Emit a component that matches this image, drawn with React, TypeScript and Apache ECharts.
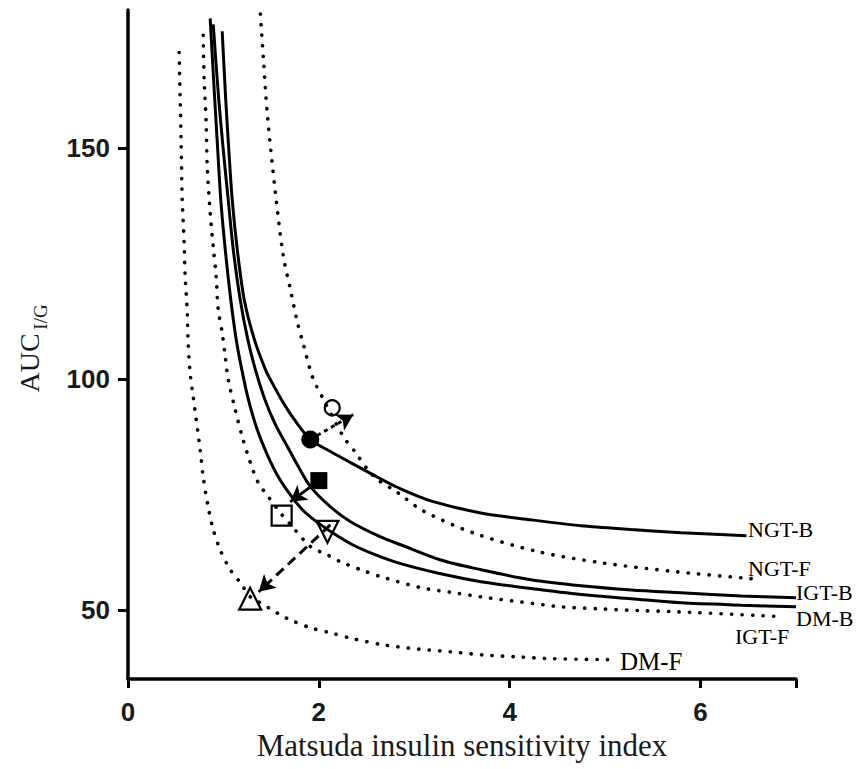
import React, { useEffect, useRef } from "react";
import * as echarts from "echarts";

// ---------- data ----------
const xTicks = [0, 2, 4, 6];
const yTicks = [50, 100, 150];

const ngtB: [number, number][] = [
  [0.987, 175.4], [1.024, 160.6], [1.056, 149.8], [1.092, 138.9], [1.145, 128.1],
  [1.218, 117.2], [1.324, 108.6], [1.439, 102.1], [1.492, 99.9], [1.607, 95.6],
  [1.744, 91.2], [1.912, 86.9], [2.122, 84.3], [2.332, 81.9], [2.647, 78.4],
  [2.857, 76.2], [3.172, 73.6], [3.697, 71.0], [4.223, 69.5], [4.748, 68.2],
  [5.273, 67.4], [5.798, 66.7], [6.481, 66.05],
];
const igtB: [number, number][] = [
  [0.893, 176.9], [0.951, 160.6], [0.998, 149.8], [1.05, 138.9], [1.103, 128.1],
  [1.176, 117.2], [1.255, 108.6], [1.334, 102.1], [1.434, 95.6], [1.544, 90.2],
  [1.67, 85.4], [1.786, 81.0], [1.912, 76.7], [2.122, 72.3], [2.332, 69.1],
  [2.647, 65.8], [2.857, 64.1], [3.277, 60.8], [3.697, 58.7], [4.223, 56.5],
  [4.748, 55.2], [5.273, 54.3], [5.798, 53.7], [6.429, 53.0], [7.0, 52.6],
];
const dmB: [number, number][] = [
  [0.861, 178.2], [0.909, 160.6], [0.94, 149.8], [0.972, 138.9], [1.019, 128.1],
  [1.077, 117.2], [1.134, 108.6], [1.192, 102.1], [1.261, 95.6], [1.355, 89.0],
  [1.46, 83.6], [1.576, 78.8], [1.702, 74.9], [1.828, 71.7], [1.975, 69.1],
  [2.143, 66.7], [2.353, 64.1], [2.595, 61.9], [2.857, 60.0], [3.277, 57.8],
  [3.697, 56.1], [4.223, 54.6], [4.748, 53.3], [5.273, 52.4], [5.798, 51.5],
  [6.429, 51.0], [7.0, 50.65],
];
const ngtF: [number, number][] = [
  [1.387, 179.1], [1.418, 169.7], [1.46, 157.4], [1.544, 140.5], [1.628, 126.6],
  [1.702, 119.4], [1.775, 112.3], [1.838, 107.5], [1.933, 100.5], [2.038, 96.0],
  [2.258, 87.5], [2.384, 84.1], [2.511, 80.4], [2.616, 78.2], [2.826, 75.4],
  [3.088, 71.5], [3.613, 66.7], [4.296, 62.6], [4.958, 60.2], [5.767, 58.2], [6.565, 56.7],
];
const igtF: [number, number][] = [
  [0.788, 174.5], [0.798, 165.0], [0.819, 155.6], [0.83, 146.1], [0.861, 136.1],
  [0.893, 128.7], [0.924, 122.2], [0.945, 115.1], [0.987, 110.1], [1.019, 104.9],
  [1.05, 99.9], [1.124, 93.4], [1.197, 87.5], [1.282, 81.9], [1.366, 77.5],
  [1.471, 74.5], [1.597, 71.0], [1.723, 68.0], [1.912, 63.7], [2.09, 61.9],
  [2.227, 60.4], [2.437, 58.7], [2.647, 57.2], [3.067, 54.8], [3.414, 53.7],
  [3.771, 52.6], [4.118, 51.7], [4.538, 50.65], [4.958, 50.2], [5.378, 49.8],
  [5.725, 49.6], [6.87, 48.5],
];
const dmF: [number, number][] = [
  [0.536, 170.8], [0.546, 161.3], [0.557, 151.3], [0.567, 139.6], [0.588, 129.6],
  [0.599, 122.2], [0.62, 115.1], [0.63, 107.9], [0.651, 101.4], [0.683, 96.2],
  [0.756, 84.7], [0.788, 78.8], [0.84, 72.3], [0.893, 67.4], [0.966, 63.0],
  [1.071, 58.7], [1.176, 55.9], [1.282, 52.8], [1.387, 51.5], [1.492, 50.2],
  [1.597, 48.9], [1.702, 47.8], [1.912, 46.1], [2.122, 45.0], [2.363, 43.7],
  [2.679, 42.4], [3.036, 41.5], [3.382, 40.9], [3.729, 40.2], [4.086, 39.8],
  [4.433, 39.4], [5.03, 39.2],
];

// group means (baseline -> follow-up)
const ngtBPoint: [number, number] = [1.91, 86.9];
const ngtFPoint: [number, number] = [2.14, 93.8];
const igtBPoint: [number, number] = [2.0, 78.0];
const igtFPoint: [number, number] = [1.61, 70.4];
const dmBPoint: [number, number] = [2.09, 66.9];
const dmFPoint: [number, number] = [1.28, 52.4];

// arrow end points
const ngtArrowEnd: [number, number] = [2.36, 92.3];
const igtArrowEnd: [number, number] = [1.7, 73.4];
const dmArrowStart: [number, number] = [2.12, 68.4];
const dmArrowEnd: [number, number] = [1.37, 53.9];

const serif = "'Liberation Serif', 'Times New Roman', serif";
const sans = "'Liberation Sans', Arial, sans-serif";
const INK = "#000";

function curve(name: string, data: [number, number][], dotted: boolean) {
  return {
    name,
    type: "line",
    data,
    smooth: 0.3,
    showSymbol: false,
    symbol: "none",
    silent: true,
    lineStyle: dotted
      ? { color: INK, width: 3.6, type: [0.2, 10.3], cap: "round" }
      : { color: INK, width: 3 },
    z: 2,
  };
}

function marker(name: string, pt: [number, number], symbol: string, size: number, filled: boolean, rotate = 0) {
  return {
    name,
    type: "scatter",
    data: [pt],
    symbol,
    symbolSize: size,
    symbolRotate: rotate,
    silent: true,
    itemStyle: filled
      ? { color: INK, opacity: 1 }
      : { color: "rgba(0,0,0,0)", borderColor: INK, borderWidth: 2.2, opacity: 1 },
    z: 5,
  };
}

function arrow(name: string, from: [number, number], to: [number, number], type: any) {
  return {
    name,
    type: "line",
    data: [],
    silent: true,
    markLine: {
      silent: true,
      symbol: ["none", "arrow"],
      symbolSize: [14, 16],
      label: { show: false },
      lineStyle: { color: INK, width: 3, type, opacity: 1 },
      data: [[{ coord: from }, { coord: to }]],
    },
    z: 4,
  };
}

export default function App() {
  const ref = useRef<HTMLDivElement>(null);
  useEffect(() => {
    if (!ref.current) return;
    const chart = echarts.init(ref.current, null, { renderer: "svg" });
    const labelStyle = (text: string, size = 22) => ({
      text,
      fill: INK,
      font: `${size}px ${serif}`,
      textVerticalAlign: "middle",
    });
    chart.setOption({
      animation: false,
      backgroundColor: "#fff",
      grid: { left: 128, right: 60, top: 10, bottom: 90, outerBoundsMode: "none", containLabel: false },
      xAxis: {
        type: "value",
        min: 0,
        max: 7,
        interval: 2,
        splitLine: { show: false },
        axisLine: { show: true, onZero: false, lineStyle: { color: INK, width: 3.5 } },
        axisTick: { show: true, length: 9, lineStyle: { color: INK, width: 3 } },
        axisLabel: {
          margin: 20,
          color: "#1a1a1a",
          fontFamily: sans,
          fontWeight: "bold",
          fontSize: 26,
          formatter: (v: number) => (xTicks.includes(v) ? String(v) : ""),
        },
        name: "Matsuda insulin sensitivity index",
        nameLocation: "middle",
        nameGap: 50,
        nameTextStyle: { fontFamily: serif, fontSize: 31, color: "#1a1a1a" },
      },
      yAxis: {
        type: "value",
        min: 35,
        max: 180,
        splitLine: { show: false },
        axisLine: { show: true, onZero: false, lineStyle: { color: INK, width: 3.5 } },
        axisTick: { show: true, length: 10, customValues: yTicks, lineStyle: { color: INK, width: 3 } },
        axisLabel: {
          margin: 18,
          color: "#1a1a1a",
          fontFamily: sans,
          fontWeight: "bold",
          fontSize: 26,
          customValues: yTicks,
        },
      },
      graphic: [
        { type: "text", x: 29, y: 363, rotation: Math.PI / 2, style: { text: "AUC", fill: "#1a1a1a", font: `28px ${serif}`, textAlign: "center", textVerticalAlign: "middle" } },
        { type: "text", x: 40, y: 317, rotation: Math.PI / 2, style: { text: "I/G", fill: "#1a1a1a", font: `19px ${serif}`, textAlign: "center", textVerticalAlign: "middle" } },
        { type: "text", x: 748, y: 529, style: labelStyle("NGT-B") },
        { type: "text", x: 748, y: 568, style: labelStyle("NGT-F") },
        { type: "text", x: 796, y: 592, style: labelStyle("IGT-B") },
        { type: "text", x: 796, y: 618, style: labelStyle("DM-B") },
        { type: "text", x: 735, y: 636, style: labelStyle("IGT-F") },
        { type: "text", x: 620, y: 661, style: labelStyle("DM-F", 25) },
      ],
      series: [
        curve("NGT-B", ngtB, false),
        curve("IGT-B", igtB, false),
        curve("DM-B", dmB, false),
        curve("NGT-F", ngtF, true),
        curve("IGT-F", igtF, true),
        curve("DM-F", dmF, true),
        arrow("NGT arrow", ngtBPoint, ngtArrowEnd, [4, 4]),
        arrow("IGT arrow", igtBPoint, igtArrowEnd, "solid"),
        arrow("DM arrow", dmArrowStart, dmArrowEnd, [10, 6]),
        marker("NGT baseline", ngtBPoint, "circle", 18, true),
        marker("NGT follow-up", ngtFPoint, "circle", 15, false),
        marker("IGT baseline", igtBPoint, "rect", 17, true),
        marker("IGT follow-up", igtFPoint, "rect", 20, false),
        marker("DM baseline", dmBPoint, "triangle", 22, false, 180),
        marker("DM follow-up", dmFPoint, "triangle", 22, false),
      ],
    });
    return () => chart.dispose();
  }, []);
  return <div ref={ref} style={{ width: 856, height: 769, position: "absolute", left: 0, top: 0 }} />;
}
